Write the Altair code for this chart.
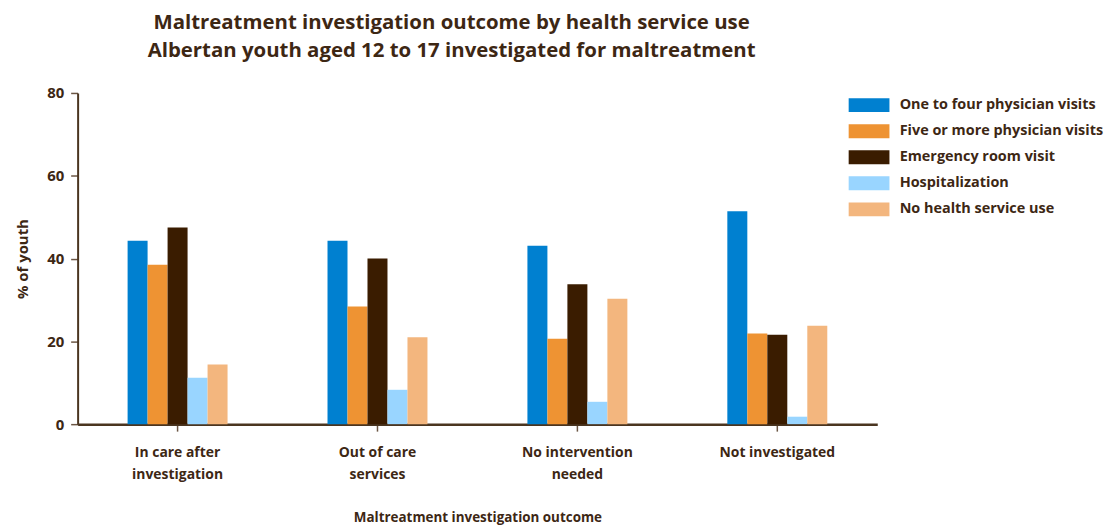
import altair as alt
import pandas as pd

categories = ["In care after|investigation", "Out of care|services", "No intervention|needed", "Not investigated"]
series = ["One to four physician visits", "Five or more physician visits", "Emergency room visit",
          "Hospitalization", "No health service use"]
colors = ["#0080D0", "#EE9333", "#3A1C00", "#99D5FF", "#F3B67E"]

one_to_four = [44.3, 44.3, 43.1, 51.4]
five_plus = [38.5, 28.4, 20.6, 21.9]
emergency = [47.5, 40.0, 33.8, 21.6]
hospital = [11.2, 8.3, 5.4, 1.8]
no_use = [14.4, 21.0, 30.3, 23.8]

rows = []
for s, vals in zip(series, [one_to_four, five_plus, emergency, hospital, no_use]):
    for c, v in zip(categories, vals):
        rows.append({"outcome": c, "service": s, "value": v})
df = pd.DataFrame(rows)

TXT = "#3D2714"
FONT = "Open Sans"

chart = alt.Chart(df).mark_bar().encode(
    x=alt.X("outcome:N", sort=categories,
            scale=alt.Scale(paddingInner=0.5, paddingOuter=0.25),
            axis=alt.Axis(title="Maltreatment investigation outcome", labelAngle=0,
                          labelExpr="split(datum.label, '|')",
                          labelFontSize=14, labelFontWeight="bold", labelColor=TXT,
                          labelFont=FONT, labelLineHeight=22, labelPadding=15,
                          titleFontSize=13.5, titleFontWeight="bold", titleColor=TXT,
                          titleFont=FONT, titlePadding=29,
                          tickSize=7, tickColor="#6B5644", tickWidth=1.5,
                          domainColor="#4A3520", domainWidth=2.5)),
    xOffset=alt.XOffset("service:N", sort=series),
    y=alt.Y("value:Q", scale=alt.Scale(domain=[0, 80]),
            axis=alt.Axis(title="%  of  youth", values=[0, 20, 40, 60, 80], grid=False,
                          labelFontSize=15, labelFontWeight="bold", labelColor=TXT,
                          labelFont=FONT, labelPadding=7,
                          titleFontSize=15, titleFontWeight="bold", titleColor=TXT,
                          titleFont=FONT, titlePadding=16,
                          tickSize=7, tickColor="#6B5644", tickWidth=1.5,
                          domainColor="#4A3520", domainWidth=2)),
    color=alt.Color("service:N", sort=series,
                    scale=alt.Scale(domain=series, range=colors),
                    legend=alt.Legend(title=None, orient="none", legendX=775, legendY=5,
                                      symbolType="M-1,-1 L4.857,-1 L4.857,1 L-1,1 Z",
                                      symbolSize=196, symbolStrokeWidth=0,
                                      symbolOpacity=1,
                                      labelOffset=37, labelFontSize=14.5,
                                      labelFontWeight="bold", labelColor=TXT,
                                      labelFont=FONT, rowPadding=10.2, padding=0,
                                      labelLimit=400)),
).properties(
    width=804, height=333,
    padding={"left": 7, "top": 3, "right": 5, "bottom": 5},
    title=alt.TitleParams(
        text=["Maltreatment investigation outcome by health service use",
              "Albertan youth aged 12 to 17 investigated for maltreatment"],
        fontSize=20.5, fontWeight="bold", color=TXT, font=FONT,
        anchor="middle", dx=-26, lineHeight=28, offset=25),
).configure_view(stroke=None)

chart.save("out.html", embed_options={"renderer": "svg", "actions": False})
